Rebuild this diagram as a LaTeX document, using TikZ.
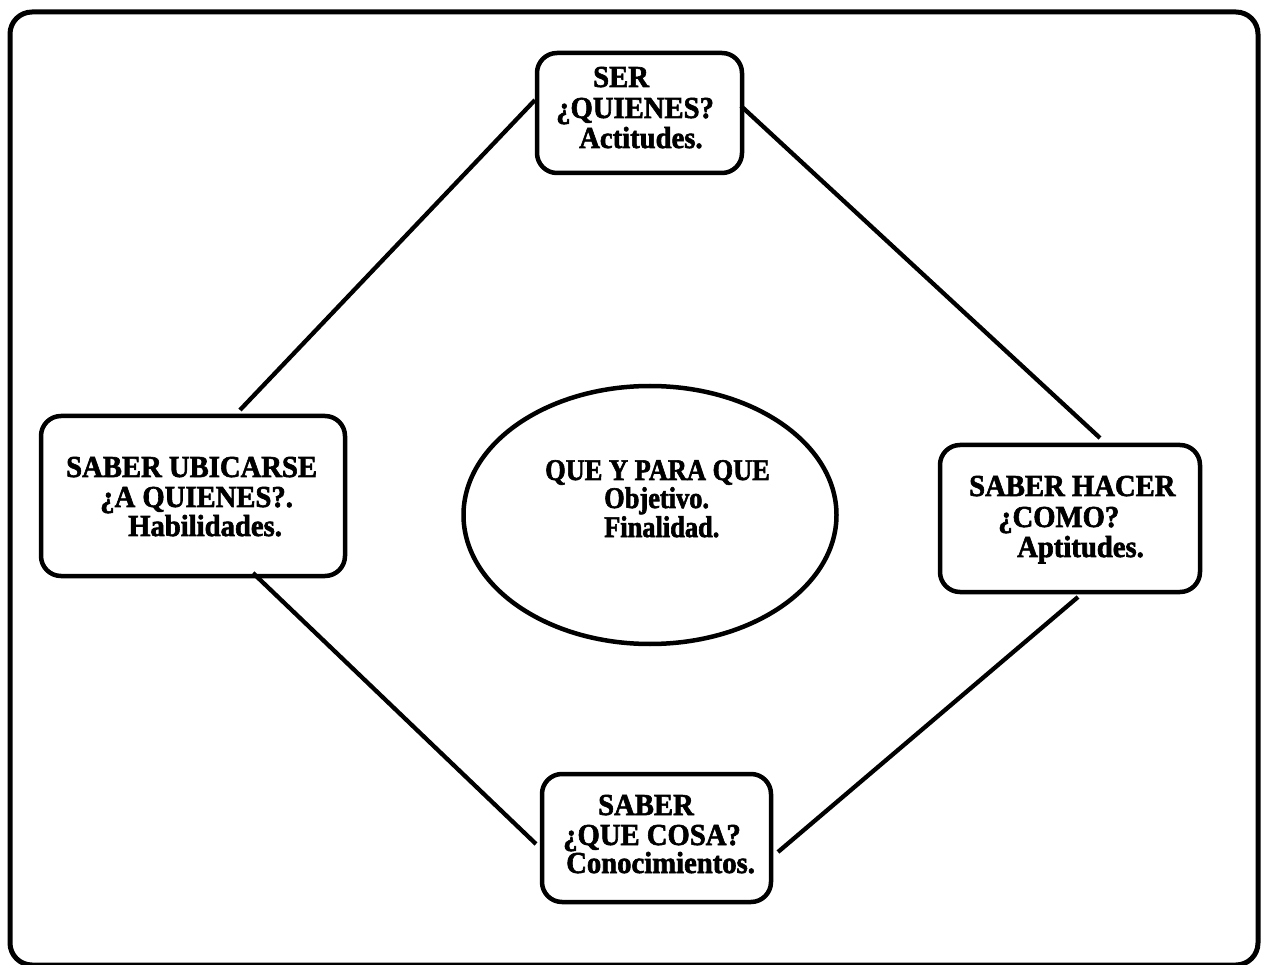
\documentclass[tikz,border=0pt]{standalone}
\usepackage{fontspec}
\setmainfont{Liberation Serif}
\newfontfamily\boxfont{Liberation Serif}[FakeStretch=0.94,BoldFeatures={FakeBold=2}]
\newfontfamily\ellfont{Liberation Serif}[FakeStretch=0.88,BoldFeatures={FakeBold=2}]
\usetikzlibrary{shapes.geometric}
\begin{document}
\begin{tikzpicture}[x=1pt,y=-1pt,
  box/.style={draw,line width=4.5pt,rounded corners=20pt},
  txt/.style={anchor=base west,inner sep=0pt,font=\boxfont\fontsize{30.5}{31}\selectfont\bfseries},
  etxt/.style={anchor=base west,inner sep=0pt,font=\ellfont\fontsize{30}{31}\selectfont\bfseries},
  link/.style={line width=4.3pt}]
\useasboundingbox (0,0) rectangle (1262,965);
\draw[line width=5pt,rounded corners=22pt] (10,12) rectangle (1258,965);
% boxes
\draw[box] (537,53) rectangle (742,173);
\draw[box] (41,416) rectangle (345,576);
\draw[box] (940,445) rectangle (1200,592);
\draw[box] (542,774) rectangle (771,902);
\node[draw,ellipse,line width=4.5pt,minimum width=373pt,minimum height=258pt,inner sep=0pt] (obj) at (650,515) {};
% texts
\node[txt] (s1) at (593,87) {SER};
\node[txt] (s2) at (556,118) {¿QUIENES?};
\node[txt] (s3) at (579,148) {Actitudes.};
\node[txt] (u1) at (66,477) {SABER UBICARSE};
\node[txt] (u2) at (100,507) {¿A QUIENES?.};
\node[txt] (u3) at (128,536) {Habilidades.};
\node[txt] (h1) at (969,496) {SABER HACER};
\node[txt] (h2) at (998,527) {¿COMO?};
\node[txt] (h3) at (1017,557) {Aptitudes.};
\node[txt] (b1) at (598,815) {SABER};
\node[txt] (b2) at (563,845) {¿QUE COSA?};
\node[txt] (b3) at (566,873) {Conocimientos.};
\node[etxt] (e1) at (545,480) {QUE Y PARA QUE};
\node[etxt] (e2) at (604,508) {Objetivo.};
\node[etxt] (e3) at (604,537) {Finalidad.};
% connector ends
\coordinate (a1) at (535,100);
\coordinate (a2) at (240,410);
\coordinate (c1) at (741,106);
\coordinate (c2) at (1100,438);
\coordinate (d1) at (1078,597);
\coordinate (d2) at (778,852);
\coordinate (f1) at (253,573);
\coordinate (f2) at (536,844);
\draw[link] (a1) -- (a2);
\draw[link] (c1) -- (c2);
\draw[link] (d1) -- (d2);
\draw[link] (f1) -- (f2);
\end{tikzpicture}
\end{document}
